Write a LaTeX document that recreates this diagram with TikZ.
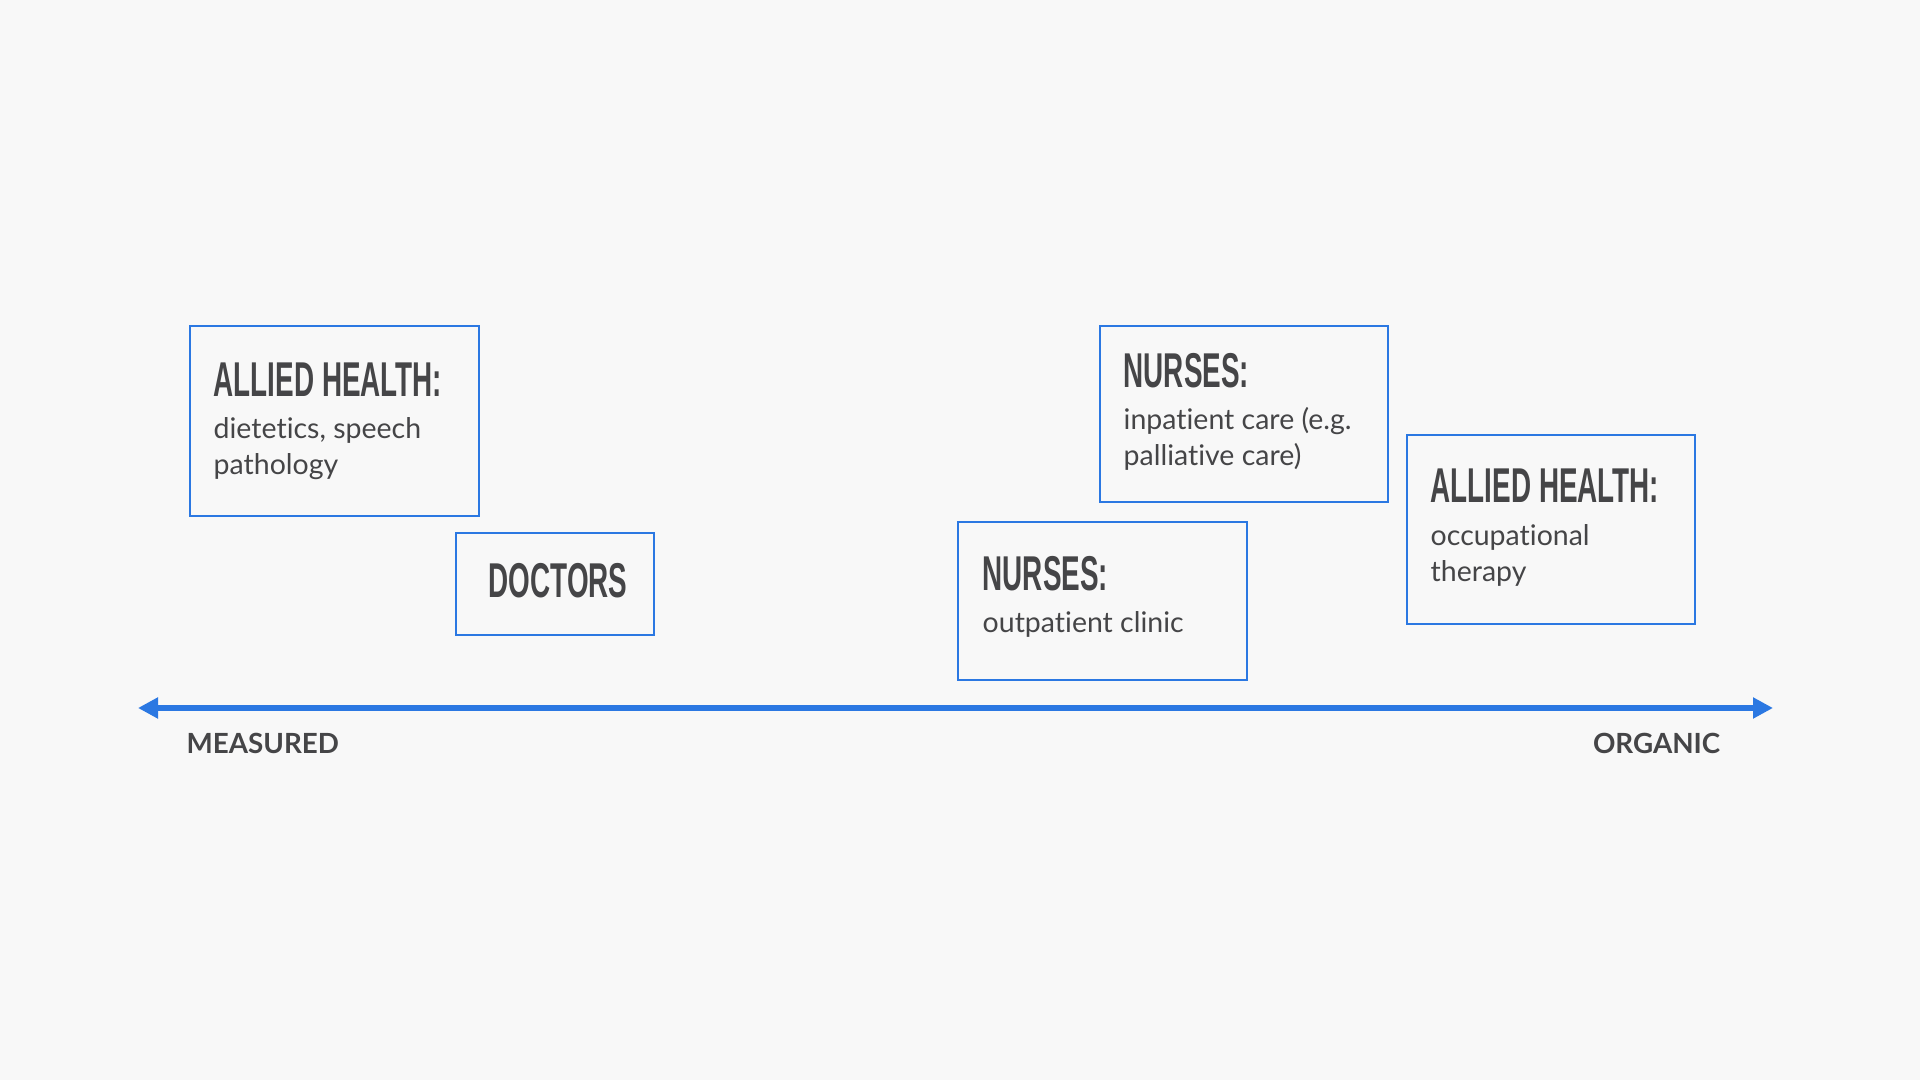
\documentclass[tikz,border=0pt]{standalone}
\usepackage{fontspec}
\setmainfont{Lato}[Ligatures=NoCommon]
\newfontfamily\headfont{Liberation Sans}[FakeStretch=0.57]
\usetikzlibrary{arrows.meta}
\definecolor{bgcol}{HTML}{F8F8F8}
\definecolor{boxblue}{HTML}{2B78E2}
\definecolor{inkgray}{HTML}{454547}
\begin{document}
\begin{tikzpicture}
          [x=0.01cm,y=-0.01cm,
          card/.style={shape=rectangle,draw=boxblue,line width=0.6pt,anchor=north west,inner sep=0pt},
          title/.style={anchor=base west,inner sep=0pt,text=inkgray,font=\headfont\bfseries\fontsize{13.9pt}{14pt}\selectfont},
          body/.style={anchor=base west,inner sep=0pt,align=left,text=inkgray,font=\fontsize{8.1pt}{10.5pt}\selectfont},
          pole/.style={inner sep=0pt,text=inkgray,font=\bfseries\fontsize{7.9pt}{9pt}\selectfont},
          axis/.style={{Triangle[length=0.2cm,width=0.2cm]}-{Triangle[length=0.2cm,width=0.2cm]},draw=boxblue,line width=1.7pt}]

            \fill[bgcol] (0,0) rectangle (1920,1080);

            \node (ahL) [card,minimum width=2.89cm,minimum height=1.90cm] at (189,325) {};
            \node (doc) [card,minimum width=1.98cm,minimum height=1.02cm] at (455,532) {};
            \node (nOut) [card,minimum width=2.89cm,minimum height=1.58cm] at (957,521) {};
            \node (nIn) [card,minimum width=2.88cm,minimum height=1.76cm] at (1099,325) {};
            \node (ahR) [card,minimum width=2.88cm,minimum height=1.89cm] at (1406,434) {};

            \node (ahLt) [title] at (213,397) {ALLIED HEALTH:};
            \node (ahLb) [body] at (213,475) {dietetics, speech\\pathology};
            \node (doct) [title] at (488,598) {DOCTORS};
            \node (nOutt) [title] at (982,591) {NURSES:};
            \node (nOutb) [body] at (982,633) {outpatient clinic};
            \node (nInt) [title] at (1123,388) {NURSES:};
            \node (nInb) [body] at (1123,466) {inpatient care (e.g.\\palliative care)};
            \node (ahRt) [title] at (1430,503) {ALLIED HEALTH:};
            \node (ahRb) [body] at (1430,582) {occupational\\therapy};

          \coordinate (measured) at (138,708);
          \coordinate (organic) at (1773,708);

          \draw [axis] (measured) to (organic);

            \node (mlab) [pole,anchor=base west] at (186,754) {MEASURED};
            \node (olab) [pole,anchor=base east] at (1721,754) {ORGANIC};

        \end{tikzpicture}
\end{document}
